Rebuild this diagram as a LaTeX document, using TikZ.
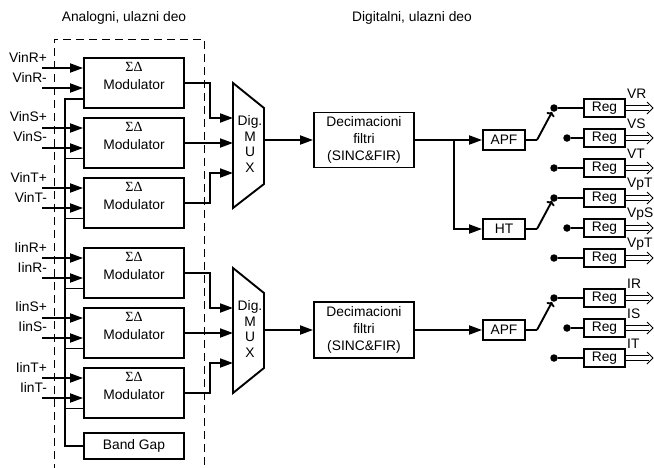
\documentclass[tikz,border=0pt]{standalone}
\usepackage{fontspec}
\setmainfont{Liberation Sans}
\newfontfamily\greekfont{Liberation Serif}
\usetikzlibrary{arrows.meta,calc}
\begin{document}
\begin{tikzpicture}[x=1pt,y=-1pt,
  font=\fontsize{13.8}{16}\selectfont,
  blk/.style={draw, line width=1.9pt, inner sep=0pt},
  modbox/.style={blk, minimum width=100pt, minimum height=50pt},
  regbox/.style={blk, minimum width=41pt, minimum height=18pt},
  smallbox/.style={blk, minimum width=42pt, minimum height=20pt},
  filtbox/.style={blk, minimum width=100pt, minimum height=55pt, align=center, font=\fontsize{13.8}{17}\selectfont},
  wire/.style={line width=1.9pt},
  arr/.style={wire, -{Triangle[length=13pt,width=9pt]}},
  sw/.style={wire, -{To[length=4pt,width=9pt]}},
  dot/.style={circle, fill, inner sep=0pt, minimum size=7.5pt},
  thinw/.style={line width=0.8pt, line join=miter},
  dashbox/.style={line width=1pt, dash pattern=on 8pt off 5pt},
  lbl/.style={anchor=east, inner sep=0pt},
]
\useasboundingbox (0,0) rectangle (654,467);

% titles
\node (t1) at (124,18) {Analogni, ulazni deo};
\node (t2) at (412,18) {Digitalni, ulazni deo};

% dashed analog region
\draw[dashbox] (54,472) -- (54,39) -- (204,39) -- (204,472);

% modulators
\foreach \n/\cy in {1/83,2/143,3/203,4/273,5/333,6/393} {
  \node[modbox] (m\n) at (134,\cy) {};
  \node[font=\greekfont\fontsize{14}{14}\selectfont] (s\n) at ([yshift=-10pt]m\n.north) {ΣΔ};
  \node (l\n) at ([yshift=-28pt]m\n.north) {Modulator};
}
\node[blk, minimum width=100pt, minimum height=26pt] (bg) at (134,446) {Band Gap};

% inputs
\foreach \n/\lp/\lm in {1/VinR+/VinR-,2/VinS+/VinS-,3/VinT+/VinT-,4/IinR+/IinR-,5/IinS+/IinS-,6/IinT+/IinT-} {
  \coordinate (ip\n) at ($(m\n.west)+(-41,-15)$);
  \coordinate (im\n) at ($(m\n.west)+(-41,5)$);
  \draw[arr] (ip\n) -- ($(m\n.west)+(0,-15)$);
  \draw[arr] (im\n) -- ($(m\n.west)+(0,5)$);
  \node[lbl] (lp\n) at ($(ip\n)+(5,-11)$) {\lp};
  \node[lbl] (lm\n) at ($(im\n)+(5,-11)$) {\lm};
}

% bias bus
\coordinate (bt) at (65,99);
\coordinate (bb) at (65,446);
\draw[wire] ($(m1.west)+(0,16)$) -- (bt) -- (bb) -- (bg.west);
\foreach \n in {2,3,4,5,6} {
  \coordinate (bj\n) at ($(m\n.west)+(-19,15.5)$);
  \draw[wire] (bj\n) -- ($(m\n.west)+(0,15.5)$);
}

% multiplexers
\draw[blk] (233,83) -- (264,108) -- (264,184) -- (233,208) -- cycle;
\node[align=center, font=\fontsize{13.8}{15.5}\selectfont] (mxa) at (250,144) {Dig.\\M\\U\\X};
\draw[blk] (233,268) -- (264,293) -- (264,368) -- (233,393) -- cycle;
\node[align=center, font=\fontsize{13.8}{15.5}\selectfont] (mxb) at (250,329) {Dig.\\M\\U\\X};
\coordinate (a1) at (233,118);
\coordinate (a2) at (233,143);
\coordinate (a3) at (233,173);
\coordinate (a4) at (233,308);
\coordinate (a5) at (233,333);
\coordinate (a6) at (233,363);
\coordinate (ao) at (264,140);
\coordinate (bo) at (264,330);

\draw[arr] (m1.east) -- ++(25,0) |- (a1);
\draw[arr] (m2.east) -- (a2);
\draw[arr] (m3.east) -- ++(25,0) |- (a3);
\draw[arr] (m4.east) -- ++(25,0) |- (a4);
\draw[arr] (m5.east) -- (a5);
\draw[arr] (m6.east) -- ++(25,0) |- (a6);

% decimation filters
\node[filtbox] (f1) at (364,140) {Decimacioni\\filtri\\(SINC\&FIR)};
\node[filtbox, minimum height=56pt] (f2) at (364,330) {Decimacioni\\filtri\\(SINC\&FIR)};
\draw[arr] (ao) -- (f1.west);
\draw[arr] (bo) -- (f2.west);

% APF / HT
\node[smallbox] (apf1) at (504,140) {APF};
\node[smallbox] (ht) at (504,229) {HT};
\node[smallbox] (apf2) at (504,330) {APF};
\coordinate (jn) at (454,140);
\draw[arr] (f1.east) -- (apf1.west);
\draw[arr] (jn) |- (ht.west);
\draw[arr] (f2.east) -- (apf2.west);

% switches
\coordinate (p1) at (537,140);
\coordinate (p2) at (537,229);
\coordinate (p3) at (537,330);
\coordinate (q1) at (552,112);
\coordinate (q2) at (552,201);
\coordinate (q3) at (552,302);
\draw[wire] (apf1.east) -- (p1);
\draw[sw] (p1) -- (q1);
\draw[wire] (ht.east) -- (p2);
\draw[sw] (p2) -- (q2);
\draw[wire] (apf2.east) -- (p3);
\draw[sw] (p3) -- (q3);

% registers
\foreach \n/\cy/\dx/\lab in {1/108/554/VR,2/138/567/VS,3/168/554/VT,4/198/554/VpT,5/228/567/VpS,6/258/554/VpT,7/298/554/IR,8/328/567/IS,9/358/554/IT} {
  \node[regbox] (r\n) at (604.5,\cy) {Reg};
  \node[dot] (d\n) at (\dx,\cy) {};
  \draw[wire] (d\n) -- (r\n.west);
  \draw[thinw] ([yshift=2.6pt]r\n.east) -- ++(23,0);
  \draw[thinw] ([yshift=-2.6pt]r\n.east) -- ++(23,0);
  \coordinate (o\n) at (653,\cy);
  \draw[thinw] ($(o\n)+(-6,-6)$) -- (o\n) -- ($(o\n)+(-6,6)$);
  \node[anchor=west, inner sep=0pt] (ol\n) at (627,\cy-14) {\lab};
}
\end{tikzpicture}
\end{document}
